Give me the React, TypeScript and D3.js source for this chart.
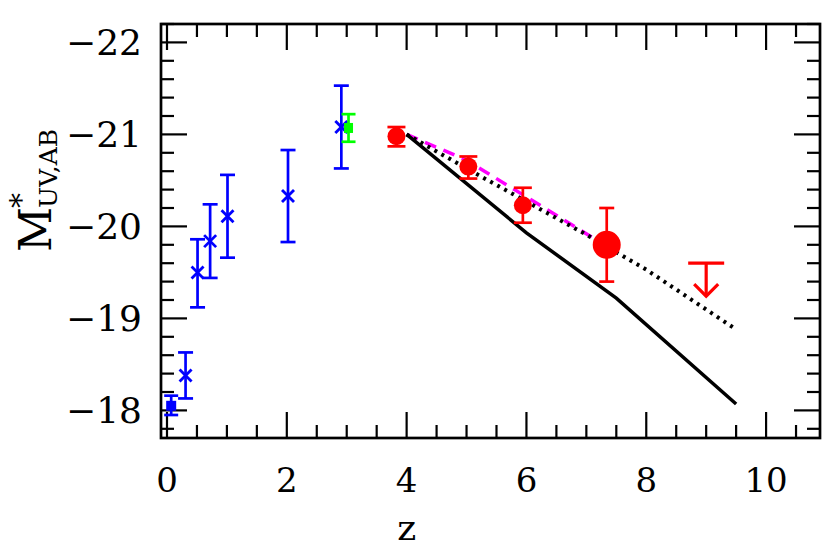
import React from "react";
import * as d3 from "d3";

// blue crosses (z, M*, error extent)
const blueZ = [0.31, 0.51, 0.72, 1.01, 2.02, 2.91];
const blueM = [-18.38, -19.5, -19.84, -20.11, -20.33, -21.08];
const blueTop = [-18.63, -19.86, -20.24, -20.56, -20.83, -21.53];
const blueBot = [-18.13, -19.12, -19.44, -19.66, -19.83, -20.63];

// blue square at low z
const sqZ = [0.07];
const sqM = [-18.05];
const sqTop = [-18.16];
const sqBot = [-17.95];

// green square
const grZ = [3.03];
const grM = [-21.07];
const grTop = [-21.22];
const grBot = [-20.92];

// red circles
const redZ = [3.83, 5.03, 5.94, 7.34];
const redM = [-20.98, -20.65, -20.23, -19.8];
const redTop = [-21.08, -20.76, -20.42, -20.2];
const redBot = [-20.87, -20.52, -20.04, -19.4];
const redBig = [false, false, false, true];

// red upper limit
const limZ = [9.0];
const limM = [-19.6];

// model curves
const solidZ = [4.0, 6.0, 7.5, 9.5];
const solidM = [-21.0, -19.93, -19.22, -18.07];
const dotZ = [4.0, 5.0, 6.0, 7.0, 8.0, 9.5];
const dotM = [-21.0, -20.63, -20.27, -19.91, -19.53, -18.88];
const dashZ = [4.0, 5.0, 6.0, 7.3];
const dashM = [-21.0, -20.72, -20.32, -19.8];

const xTicks = [0, 2, 4, 6, 8, 10];
const yTicks = [-22, -21, -20, -19, -18];

const W = 830;
const H = 551;
const L = 161, R = 820, T = 24, B = 438;

export default function App() {
  const x = d3.scaleLinear().domain([-0.1, 10.9]).range([L, R]);
  const y = d3.scaleLinear().domain([-22.2, -17.7]).range([T, B]);
  const line = d3.line<[number, number]>().x((d) => x(d[0])).y((d) => y(d[1]));

  const xMinor = d3.range(0, 10.9, 0.5);
  const yMinor = d3.range(-22.2, -17.69, 0.2).map((v) => Math.round(v * 10) / 10);

  const font = "'DejaVu Serif', serif";

  const errBar = (zx: number, a: number, b: number, cap: number, color: string, key: string) => (
    <g key={key} stroke={color} strokeWidth={2.7}>
      <line x1={x(zx)} x2={x(zx)} y1={y(a)} y2={y(b)} />
      <line x1={x(zx) - cap} x2={x(zx) + cap} y1={y(a)} y2={y(a)} />
      <line x1={x(zx) - cap} x2={x(zx) + cap} y1={y(b)} y2={y(b)} />
    </g>
  );

  return (
    <svg width={W} height={H} style={{ position: "absolute", left: 0, top: 0, background: "#fff" }}>
      {/* ticks */}
      <g stroke="#000" strokeWidth={2.2}>
        {xMinor.map((v) => {
          const major = Math.abs(v - Math.round(v / 2) * 2) < 1e-6;
          const len = major ? 26 : 13;
          return (
            <g key={"xt" + v}>
              <line x1={x(v)} x2={x(v)} y1={B} y2={B - len} />
              <line x1={x(v)} x2={x(v)} y1={T} y2={T + len} />
            </g>
          );
        })}
        {yMinor.map((v) => {
          const major = Math.abs(v - Math.round(v)) < 1e-6;
          const len = major ? 26 : 13;
          return (
            <g key={"yt" + v}>
              <line x1={L} x2={L + len} y1={y(v)} y2={y(v)} />
              <line x1={R} x2={R - len} y1={y(v)} y2={y(v)} />
            </g>
          );
        })}
      </g>
      <rect x={L} y={T} width={R - L} height={B - T} fill="none" stroke="#000" strokeWidth={2.7} />

      {/* tick labels */}
      {xTicks.map((v) => (
        <text key={"xl" + v} x={x(v)} y={492} textAnchor="middle" fontFamily={font} fontSize={34}>
          {v}
        </text>
      ))}
      {yTicks.map((v) => (
        <text key={"yl" + v} x={142} y={y(v) + 13} textAnchor="end" fontFamily={font} fontSize={36}>
          {"\u2212" + Math.abs(v)}
        </text>
      ))}
      <text x={x(4)} y={540} textAnchor="middle" fontFamily={font} fontSize={36}>
        z
      </text>
      <g transform="translate(51,252) rotate(-90)" fontFamily={font}>
        <text x={0} y={0} fontSize={44}>M</text>
        <text x={44} y={-20} fontSize={30}>*</text>
        <text x={44} y={6} fontSize={25}>UV,AB</text>
      </g>

      {/* model curves */}
      <path d={line(dashZ.map((z, i) => [z, dashM[i]]))!} fill="none" stroke="#ff00ff" strokeWidth={3.5} strokeDasharray="12 8" />
      <path d={line(dotZ.map((z, i) => [z, dotM[i]]))!} fill="none" stroke="#000" strokeWidth={4} strokeDasharray="3 5" />
      <path d={line(solidZ.map((z, i) => [z, solidM[i]]))!} fill="none" stroke="#000" strokeWidth={3.5} />

      {/* blue crosses */}
      {blueZ.map((z, i) => (
        <g key={"b" + i}>
          {errBar(z, blueTop[i], blueBot[i], 7.5, "#0000ff", "be" + i)}
          <g stroke="#0000ff" strokeWidth={2.8}>
            <line x1={x(z) - 6} x2={x(z) + 6} y1={y(blueM[i]) - 6} y2={y(blueM[i]) + 6} />
            <line x1={x(z) - 6} x2={x(z) + 6} y1={y(blueM[i]) + 6} y2={y(blueM[i]) - 6} />
          </g>
        </g>
      ))}
      {sqZ.map((z, i) => (
        <g key={"s" + i}>
          {errBar(z, sqTop[i], sqBot[i], 7, "#0000ff", "se" + i)}
          <rect x={x(z) - 5} y={y(sqM[i]) - 5} width={10} height={10} fill="#0000ff" />
        </g>
      ))}
      {grZ.map((z, i) => (
        <g key={"g" + i}>
          {errBar(z, grTop[i], grBot[i], 7, "#00ff00", "ge" + i)}
          <rect x={x(z) - 4.5} y={y(grM[i]) - 5} width={9} height={10} fill="#00ff00" />
        </g>
      ))}

      {/* red points */}
      {redZ.map((z, i) => (
        <g key={"r" + i}>
          {errBar(z, redTop[i], redBot[i], redBig[i] ? 7.5 : 9, "#ff0000", "re" + i)}
          <circle cx={x(z)} cy={y(redM[i])} r={redBig[i] ? 14 : 9} fill="#ff0000" />
        </g>
      ))}
      {limZ.map((z, i) => (
        <g key={"l" + i} stroke="#ff0000" strokeWidth={3.2} fill="none">
          <line x1={x(z) - 18} x2={x(z) + 18} y1={y(limM[i])} y2={y(limM[i])} />
          <line x1={x(z)} x2={x(z)} y1={y(limM[i])} y2={y(limM[i]) + 33} />
          <path d={`M${x(z) - 12},${y(limM[i]) + 21} L${x(z)},${y(limM[i]) + 33} L${x(z) + 12},${y(limM[i]) + 21}`} />
        </g>
      ))}
    </svg>
  );
}
